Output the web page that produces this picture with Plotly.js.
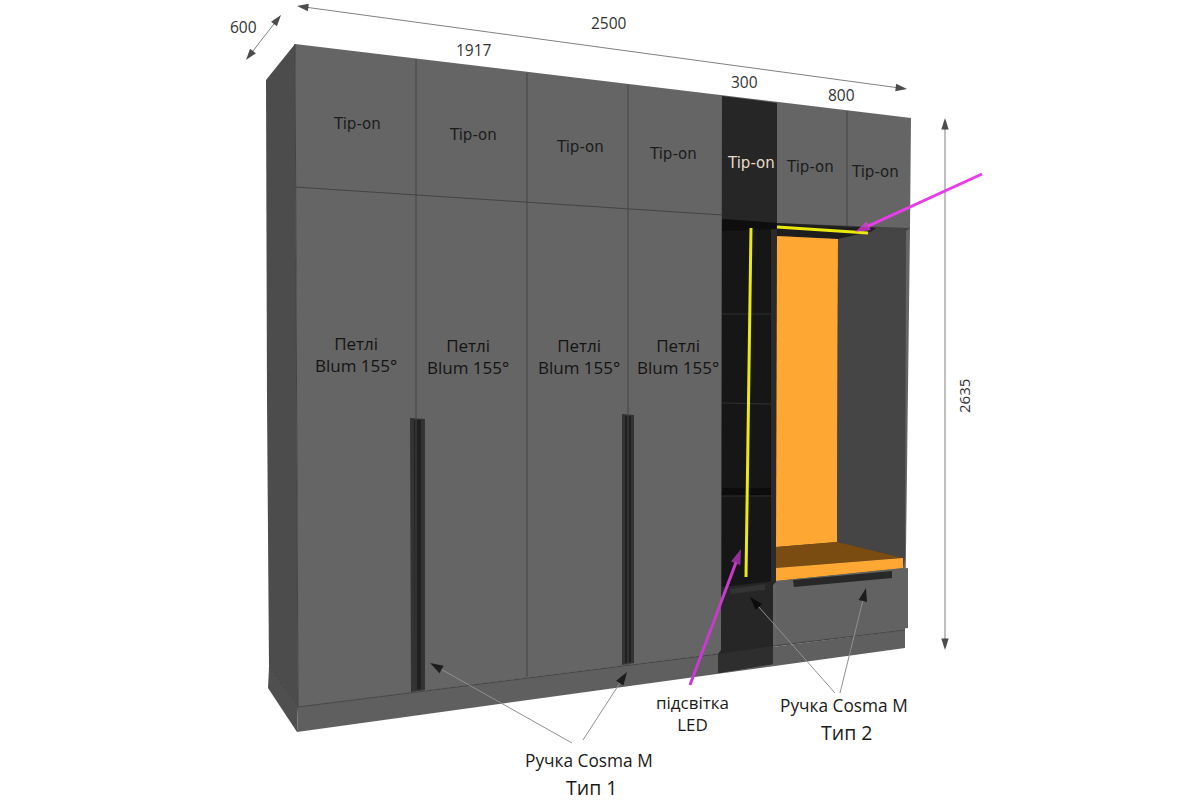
<!DOCTYPE html>
<html><head><meta charset="utf-8">
<script src="https://cdn.plot.ly/plotly-3.0.1.min.js"></script>
<style>html,body{margin:0;padding:0;background:#fff}#c{width:1200px;height:800px}</style></head>
<body><div id="c"></div>
<script>
// Panels
const sideX=[295,266,267,269,298], sideY=[44,80,400,668,707];
const plinthSideX=[269,298,297,268], plinthSideY=[668,707,732,688];
const frontX=[295,911,910,905,298], frontY=[44,118,228,630,707];
const plinthX=[298,905,905,297], plinthY=[707,630,648,732];
const columnX=[722,777,777,773,773,718,718,721], columnY=[96,103,581,585,664,673,654,650];
const columnPlinthX=[718,773,773,718], columnPlinthY=[654,646,664,673];
const nicheX=[722,777,776,722], nicheY=[219,223,581,587];
const nicheTopX=[722,777,777,722], nicheTopY=[219,223,229,231];
const nicheSideX=[771,777,776,771], nicheSideY=[228,225,581,582];
const shelfBandX=[722,771,771,722], shelfBandY=[488,488,495,496];
const rightBayX=[777,910,906,905,903,776], rightBayY=[223,228,231,558,568,581];
const bayTopX=[777,876,868,838,777], bayTopY=[223,228,234,239,236];
const backX=[777,838,837,776], backY=[236,239,542,547];
const wallX=[838,868,905,905,837], wallY=[239,232,229,558,542];
const shelfTopX=[776,837,903,776], shelfTopY=[547,542,558,568];
const shelfEdgeX=[776,903,903,776], shelfEdgeY=[568,558,568,581];
const drawerX=[776,908,908,776], drawerY=[581,568,628,645];
const drawerBarX=[793,892,892,794], drawerBarY=[580,571,578,587];
const columnBarX=[730,765,765,731], columnBarY=[589,584,590,594];
const handle1X=[410,425,425,411], handle1Y=[418,419,690,692];
const handle1InnerX=[414,421,421,415], handle1InnerY=[420,420,689,690];
const handle2X=[622,634,634,622], handle2Y=[414,415,663,665];
const handle2InnerX=[625,631,631,625], handle2InnerY=[416,416,662,663];

// Seam lines
const seams=[
 {x:[295,722],y:[187,215]},{x:[416,416],y:[59,692]},{x:[527,527],y:[73,677]},{x:[628,628],y:[85,665]},
 {x:[847,847],y:[111,226]},{x:[298,718],y:[707,654]},{x:[773,905],y:[646,630]},{x:[295,298],y:[44,707]},
 {x:[269,298],y:[668,707]}
];
const shelves=[{x:[722,771],y:[314,314]},{x:[722,771],y:[403,404]},{x:[722,771],y:[496,496]}];
const ledLines=[{x:[751,746],y:[228,577]},{x:[777,868],y:[227,233]}];

// Leader and dimension lines: tail then head
const leaders=[
 {x:[572,430],y:[743,663]},{x:[583,627],y:[740,672]},
 {x:[835,750],y:[693,597]},{x:[840,866],y:[693,588]}
];
const dimensions=[
 {x:[602,297],y:[47.5,6]},{x:[602,907],y:[47.5,89]},
 {x:[263,246],y:[38,60]},{x:[263,281],y:[38,15]},
 {x:[945,945],y:[384,118]},{x:[945,945],y:[384,650]}
];
const magenta=[{x:[982,855],y:[174,232],c:'#e83ce8'},{x:[690,741],y:[685,549],c:'#c93ad0'}];

// Labels
const dimLabels=[['2500',609,23],['600',243,27],['1917',474,50],['300',744,82],['800',841,95]];
const tipLabels=[[357,124],[473,135],[580,147],[673,154],[810,167],[875,172]];
const tipDark=[751,163];
const hingeLabels=[[356,354],[468,356],[579,356],[678,356]];
const noteLabels=[
 ['підсвітка<br>LED',692,713,17,'#1a1a1a'],
 ['Ручка Cosma M',844,705,17.3,'#1a1a1a'],['Тип 2',846,732,19.5,'#1a1a1a'],
 ['Ручка Cosma M',589,760,17.3,'#1a1a1a'],['Тип 1',591,787,19.5,'#1a1a1a']
];

const traces=[];
function poly(x,y,c){traces.push({type:'scatter',mode:'lines',x:x,y:y,fill:'toself',fillcolor:c,line:{width:0},hoverinfo:'skip'});}
function line(s,c,w){traces.push({type:'scatter',mode:'lines',x:s.x,y:s.y,line:{color:c,width:w},hoverinfo:'skip'});}
function arrow(s,c,w,hc,size){traces.push({type:'scatter',mode:'lines+markers',x:s.x,y:s.y,line:{color:c,width:w},
  marker:{symbol:'arrow',size:[0,size],color:hc,angleref:'previous',line:{width:0}},hoverinfo:'skip'});}

poly(sideX,sideY,'#4c4c4c');
poly(plinthSideX,plinthSideY,'#4f4f4f');
poly(frontX,frontY,'#656565');
poly(plinthX,plinthY,'#5f5f5f');
poly(rightBayX,rightBayY,'#444444');
poly(columnX,columnY,'#262626');
poly(columnPlinthX,columnPlinthY,'#2e2e2e');
poly(nicheX,nicheY,'#161616');
poly(nicheSideX,nicheSideY,'#2a2a2a');
poly(nicheTopX,nicheTopY,'#0e0e0e');
poly(shelfBandX,shelfBandY,'#0c0c0c');
poly(bayTopX,bayTopY,'#1e1e1e');
poly(backX,backY,'#ffa733');
poly(wallX,wallY,'#454545');
poly(shelfTopX,shelfTopY,'#7a4c12');
poly(shelfEdgeX,shelfEdgeY,'#ffa733');
poly(drawerX,drawerY,'#626262');
poly(drawerBarX,drawerBarY,'#282828');
poly(columnBarX,columnBarY,'#333333');
poly(handle1X,handle1Y,'#333333');
poly(handle1InnerX,handle1InnerY,'#202020');
poly(handle2X,handle2Y,'#333333');
poly(handle2InnerX,handle2InnerY,'#202020');
seams.forEach(s=>line(s,'#444444',1));
shelves.forEach(s=>line(s,'#2e2e2e',1.2));
ledLines.forEach(s=>line(s,'#eaea10',3));
leaders.forEach(s=>arrow(s,'#909090',1,'#000000',14));
dimensions.forEach(s=>arrow(s,'#808080',1,'#000000',12));
magenta.forEach(s=>arrow(s,s.c,3,s.c,16));

const ann=[];
function label(t,x,y,size,c,family,rot){ann.push({text:t,x:x,y:y,xref:'x',yref:'y',showarrow:false,
  font:{family:family,size:size,color:c},align:'center',textangle:rot||0});}
dimLabels.forEach(d=>label(d[0],d[1],d[2],15.5,'#333333','Open Sans'));
label('2635',964,396,15,'#333333','Open Sans',-90);
tipLabels.forEach(p=>label('Tip-on',p[0],p[1],15,'#1c1c1c','DejaVu Sans'));
label('Tip-on',tipDark[0],tipDark[1],15,'#e8dcc8','DejaVu Sans');
hingeLabels.forEach(p=>label('Петлі<br>Blum 155°',p[0],p[1],17,'#141414','Open Sans'));
noteLabels.forEach(n=>label(n[0],n[1],n[2],n[3],n[4],'Open Sans'));

Plotly.newPlot('c',traces,{
  width:1200,height:800,margin:{l:0,r:0,t:0,b:0},showlegend:false,
  paper_bgcolor:'#ffffff',plot_bgcolor:'#ffffff',
  xaxis:{range:[0,1200],visible:false,fixedrange:true},
  yaxis:{range:[800,0],visible:false,fixedrange:true},
  annotations:ann
},{displayModeBar:false,staticPlot:true});
</script></body></html>
